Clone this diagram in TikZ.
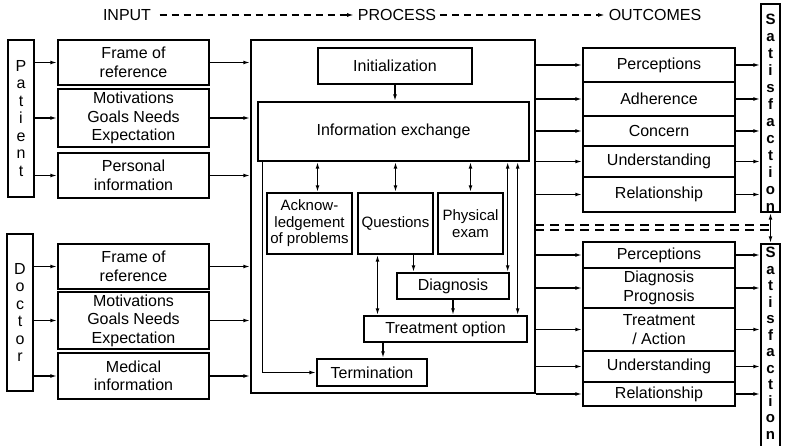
\documentclass[tikz,border=0pt]{standalone}
\usepackage{fontspec}
\setmainfont{Liberation Sans}
\usetikzlibrary{arrows.meta}

\begin{document}
\begin{tikzpicture}[x=1pt,y=-1pt,line width=1.35pt,
    >={Latex[length=7pt,width=3.8pt]},
    box/.style={draw,inner sep=0pt,align=center,font=\fontsize{16}{18.5}\selectfont},
    small/.style={box,font=\fontsize{15}{16.5}\selectfont},
    letters/.style={draw,inner sep=0pt,align=center,minimum width=26pt,font=\fontsize{16}{17.5}\selectfont},
    satbox/.style={draw,inner sep=0pt,minimum width=19pt},
    satletters/.style={anchor=north,align=center,inner sep=0pt,font=\fontsize{15}{#1}\selectfont\bfseries},
    head/.style={inner sep=3pt,font=\fontsize{16}{18}\selectfont}]
  \useasboundingbox (0,0) rectangle (788,446);
  \clip (0,0) rectangle (788,446);

  \node[head] (input) at (127,15) {INPUT};
  \node[head] (process) at (397,15) {PROCESS};
  \node[head] (outcomes) at (655,15) {OUTCOMES};
  \draw[dash pattern=on 7pt off 5pt,->] ([xshift=5pt]input.east) -- (process.west);
  \draw[dash pattern=on 7pt off 5pt,->] (process.east) -- (outcomes.west);

  \node[letters,minimum height=157pt] (patient) at (21,118.5) {P\\a\\t\\i\\e\\n\\t};
  \node[box,minimum width=151pt,minimum height=45pt] (pframe) at (133.5,62.5) {Frame of\\reference};
  \node[box,minimum width=151pt,minimum height=58pt] (pmotiv) at (133.5,118) {Motivations\\Goals Needs\\Expectation};
  \node[box,minimum width=151pt,minimum height=45pt] (ppers) at (133.5,175.5) {Personal\\information};

  \node[letters,minimum height=157pt] (doctor) at (20,312.5) {D\\o\\c\\t\\o\\r};
  \node[box,minimum width=151pt,minimum height=45pt] (dframe) at (133.5,266.5) {Frame of\\reference};
  \node[box,minimum width=151pt,minimum height=57pt] (dmotiv) at (133.5,320.5) {Motivations\\Goals Needs\\Expectation};
  \node[box,minimum width=151pt,minimum height=46pt] (dmed) at (133.5,376) {Medical\\information};

  \node[box,minimum width=284pt,minimum height=353pt] (proc) at (393,216.5) {};
  \node[box,minimum width=154pt,minimum height=36pt] (init) at (395,66) {Initialization};
  \node[box,minimum width=271pt,minimum height=59pt] (infox) at (393.5,131.5) {Information exchange};
  \node[small,minimum width=85pt,minimum height=61pt] (ack) at (309.5,223.5) {Acknow-\\ledgement\\of problems};
  \node[small,minimum width=75pt,minimum height=61pt] (quest) at (395.5,223.5) {Questions};
  \node[small,minimum width=65pt,minimum height=61pt] (phys) at (470.5,223.5) {Physical\\exam};
  \node[box,minimum width=112pt,minimum height=26pt] (diag) at (453,286) {Diagnosis};
  \node[box,minimum width=163pt,minimum height=26pt] (treat) at (445.5,329) {Treatment option};
  \node[box,minimum width=110pt,minimum height=27pt] (term) at (372,372.5) {Termination};

  \node[box,minimum width=152pt,minimum height=34pt] (operc) at (659,65) {Perceptions};
  \node[box,minimum width=152pt,minimum height=34pt] (oadh) at (659,99) {Adherence};
  \node[box,minimum width=152pt,minimum height=30pt] (oconc) at (659,131) {Concern};
  \node[box,minimum width=152pt,minimum height=31pt] (ound) at (659,161.5) {Understanding};
  \node[box,minimum width=152pt,minimum height=35pt] (orel) at (659,194.5) {Relationship};

  \node[box,minimum width=152pt,minimum height=26pt] (dperc) at (659,255) {Perceptions};
  \node[box,minimum width=152pt,minimum height=40pt] (ddiag) at (659,288) {Diagnosis\\Prognosis};
  \node[box,minimum width=152pt,minimum height=43pt] (dtreat) at (659,329.5) {Treatment\\/ Action};
  \node[box,minimum width=152pt,minimum height=31pt] (dund) at (659,366.5) {Understanding};
  \node[box,minimum width=152pt,minimum height=24pt] (drel) at (659,394) {Relationship};

  \node[satbox,minimum height=208pt,
    label={[satletters=17,yshift=-10pt]north:S\\a\\t\\i\\s\\f\\a\\c\\t\\i\\o\\n}] (sattop) at (770.5,108) {};
  \node[satbox,minimum height=210pt,
    label={[satletters=16.5,yshift=-3.5pt]north:S\\a\\t\\i\\s\\f\\a\\c\\t\\i\\o\\n}] (satbot) at (770.5,349) {};

  % input side
  \draw[->] (patient.east |- pframe.west) -- (pframe.west);
  \draw[->] (patient.east |- pmotiv.west) -- (pmotiv.west);
  \draw[->] (patient.east |- ppers.west) -- (ppers.west);
  \draw[->] (doctor.east |- dframe.west) -- (dframe.west);
  \draw[->] (doctor.east |- dmotiv.west) -- (dmotiv.west);
  \draw[->] (doctor.east |- dmed.west) -- (dmed.west);
  \draw[->] (pframe.east) -- (proc.west |- pframe.east);
  \draw[->] (pmotiv.east) -- (proc.west |- pmotiv.east);
  \draw[->] (ppers.east) -- (proc.west |- ppers.east);
  \draw[->] (dframe.east) -- (proc.west |- dframe.east);
  \draw[->] (dmotiv.east) -- (proc.west |- dmotiv.east);
  \draw[->] (dmed.east) -- (proc.west |- dmed.east);

  % process
  \draw[->] (init.south) -- (init.south |- infox.north);
  \draw[<->] ([xshift=8pt]ack.north) -- ([xshift=8pt]ack.north |- infox.south);
  \draw[<->] (quest.north) -- (quest.north |- infox.south);
  \draw[<->] (phys.north) -- (phys.north |- infox.south);
  \draw[<->] ([xshift=-2pt]diag.north east) -- ([xshift=-2pt]diag.north east |- infox.south);
  \draw[<->] ([xshift=-10pt]treat.north east) -- ([xshift=-10pt]treat.north east |- infox.south);
  \draw[->] ([xshift=18pt]quest.south) -- ([xshift=18pt]quest.south |- diag.north);
  \draw[<->] ([xshift=-18pt]quest.south) -- ([xshift=-18pt]quest.south |- treat.north);
  \draw[->] (diag.south) -- (diag.south |- treat.north);
  \draw[->] ([xshift=11pt]term.north |- treat.south) -- ([xshift=11pt]term.north);
  \draw[->] ([xshift=5pt]infox.south west) |- (term.west);

  % outcomes
  \draw[->] (proc.east |- operc.west) -- (operc.west);
  \draw[->] (proc.east |- oadh.west) -- (oadh.west);
  \draw[->] (proc.east |- oconc.west) -- (oconc.west);
  \draw[->] (proc.east |- ound.west) -- (ound.west);
  \draw[->] (proc.east |- orel.west) -- (orel.west);
  \draw[->] (proc.east |- dperc.west) -- (dperc.west);
  \draw[->] (proc.east |- ddiag.west) -- (ddiag.west);
  \draw[->] (proc.east |- dtreat.west) -- (dtreat.west);
  \draw[->] (proc.east |- dund.west) -- (dund.west);
  \draw[->] (proc.east |- drel.west) -- (drel.west);

  \draw[->] (operc.east) -- (sattop.west |- operc.east);
  \draw[->] (oadh.east) -- (sattop.west |- oadh.east);
  \draw[->] (oconc.east) -- (sattop.west |- oconc.east);
  \draw[->] (ound.east) -- (sattop.west |- ound.east);
  \draw[->] (orel.east) -- (sattop.west |- orel.east);
  \draw[->] (dperc.east) -- (satbot.west |- dperc.east);
  \draw[->] (ddiag.east) -- (satbot.west |- ddiag.east);
  \draw[->] (dtreat.east) -- (satbot.west |- dtreat.east);
  \draw[->] (dund.east) -- (satbot.west |- dund.east);
  \draw[->] (drel.east) -- (satbot.west |- drel.east);

  \coordinate (dashA) at (535,225);
  \coordinate (dashB) at (535,230);
  \draw[dash pattern=on 9pt off 6pt] (dashA) -- (sattop.south |- dashA);
  \draw[dash pattern=on 9pt off 6pt] (dashB) -- (sattop.south |- dashB);
  \draw[<->] (sattop.south) -- (satbot.north);
\end{tikzpicture}
\end{document}
